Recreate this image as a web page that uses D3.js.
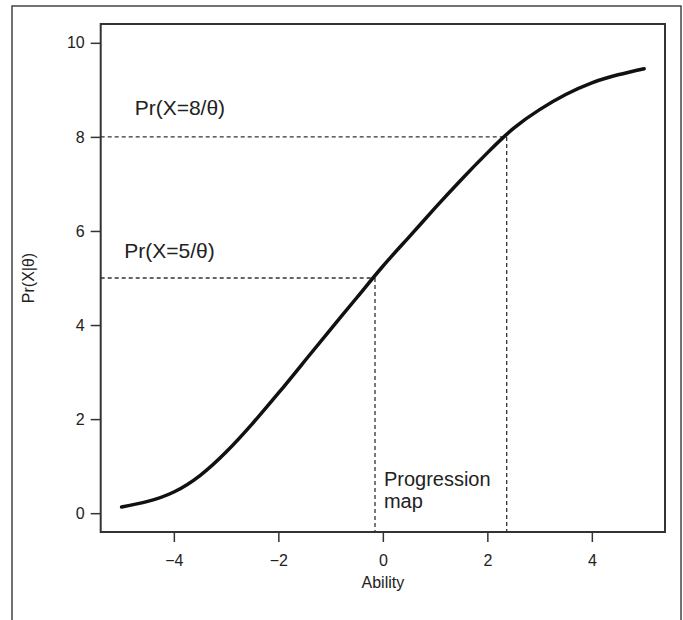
<!DOCTYPE html>
<html>
<head>
<meta charset="utf-8">
<script src="https://cdn.jsdelivr.net/npm/d3@7"></script>
<style>
  body { margin: 0; background: #fff; }
  text { font-family: "Liberation Sans", Arial, sans-serif; fill: #222; }
</style>
</head>
<body>
<svg id="chart" width="683" height="620"></svg>
<script>
// ability values and expected score
var ability = [-5, -4.5, -4, -3.5, -3, -2.5, -2, -1.5, -1, -0.5, 0,
  0.5, 1, 1.5, 2, 2.5, 3, 3.5, 4, 4.5, 5];
var score = [0.13, 0.25, 0.45, 0.8, 1.3, 1.9, 2.55, 3.23, 3.91, 4.58, 5.25,
  5.87, 6.49, 7.09, 7.66, 8.18, 8.58, 8.9, 9.15, 9.32, 9.45];

var xTicks = [-4, -2, 0, 2, 4];
var yTicks = [0, 2, 4, 6, 8, 10];

// reference lines: score level and the ability where the curve reaches it
var refLevels = [5, 8];
var refAbility = [-0.15, 2.37];
var refLabels = ["Pr(X=5/\u03b8)", "Pr(X=8/\u03b8)"];
var refLabelPos = [[-4.95, 5.42], [-4.75, 8.46]];

var svg = d3.select("#chart");

var x = d3.scaleLinear().domain([-5.4, 5.4]).range([100.7, 665]);
var y = d3.scaleLinear().domain([-0.4, 10.4]).range([532, 24]);

// outer frame
svg.append("rect")
  .attr("x", 12).attr("y", 6)
  .attr("width", 669).attr("height", 640)
  .attr("fill", "none")
  .attr("stroke", "#444")
  .attr("stroke-width", 1.5);

// axes
var xAxis = svg.append("g")
  .attr("transform", "translate(0," + y.range()[0] + ")")
  .call(d3.axisBottom(x).tickValues(xTicks).tickSize(10).tickPadding(13)
    .tickFormat(function(d) { return d < 0 ? "\u2212" + Math.abs(d) : d; }));

var yAxis = svg.append("g")
  .attr("transform", "translate(" + x.range()[0] + ",0)")
  .call(d3.axisLeft(y).tickValues(yTicks).tickSize(10).tickPadding(6));

[xAxis, yAxis].forEach(function(a) {
  a.select(".domain").remove();
  a.selectAll(".tick line").attr("stroke", "#333").attr("stroke-width", 1.5);
  a.selectAll(".tick text")
    .attr("fill", "#222")
    .style("font-size", "16px")
    .style("font-family", "Liberation Sans, Arial, sans-serif");
});

// plot box
svg.append("rect")
  .attr("x", x.range()[0]).attr("y", y.range()[1])
  .attr("width", x.range()[1] - x.range()[0])
  .attr("height", y.range()[0] - y.range()[1])
  .attr("fill", "none")
  .attr("stroke", "#333")
  .attr("stroke-width", 2);

// dashed guide lines
refLevels.forEach(function(lv, i) {
  svg.append("line")
    .attr("x1", x.range()[0]).attr("x2", x(refAbility[i]))
    .attr("y1", y(lv)).attr("y2", y(lv))
    .attr("stroke", "#333").attr("stroke-width", 1.3)
    .attr("stroke-dasharray", "4,3");
  svg.append("line")
    .attr("x1", x(refAbility[i])).attr("x2", x(refAbility[i]))
    .attr("y1", y(lv)).attr("y2", y.range()[0])
    .attr("stroke", "#333").attr("stroke-width", 1.3)
    .attr("stroke-dasharray", "4,3");
  svg.append("text")
    .attr("x", x(refLabelPos[i][0]))
    .attr("y", y(refLabelPos[i][1]))
    .style("font-size", "21px")
    .text(refLabels[i]);
});

// the curve
var line = d3.line()
  .x(function(d, i) { return x(ability[i]); })
  .y(function(d) { return y(d); })
  .curve(d3.curveNatural);

svg.append("path")
  .datum(score)
  .attr("d", line)
  .attr("fill", "none")
  .attr("stroke", "#111")
  .attr("stroke-width", 3.5)
  .attr("stroke-linecap", "round");

// progression map label
svg.append("text")
  .attr("x", x(0.02)).attr("y", y(0.58))
  .style("font-size", "20px")
  .text("Progression");
svg.append("text")
  .attr("x", x(0.02)).attr("y", y(0.12))
  .style("font-size", "20px")
  .text("map");

// axis titles
svg.append("text")
  .attr("x", x(0)).attr("y", 588)
  .attr("text-anchor", "middle")
  .style("font-size", "16px")
  .text("Ability");

svg.append("text")
  .attr("transform", "translate(34," + y(5) + ") rotate(-90)")
  .attr("text-anchor", "middle")
  .style("font-size", "16px")
  .text("Pr(X|\u03b8)");
</script>
</body>
</html>
